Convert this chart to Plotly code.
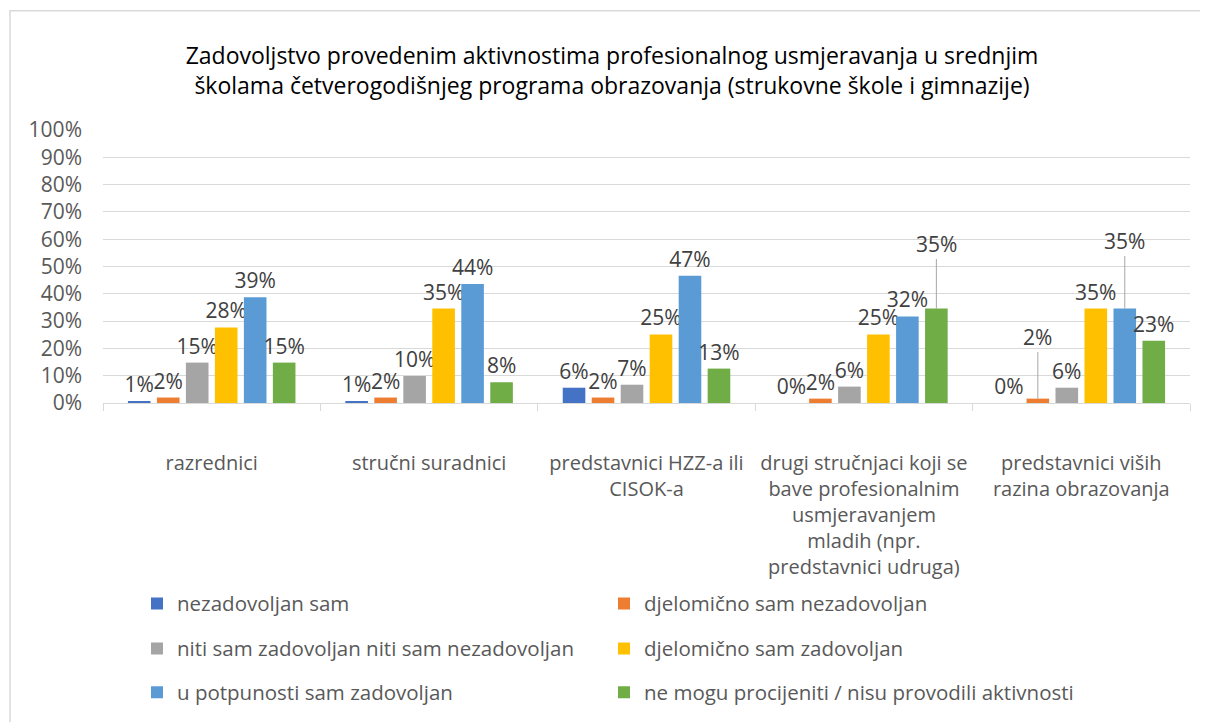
import plotly.graph_objects as go

categories = [
    "razrednici",
    "stručni suradnici",
    "predstavnici HZZ-a ili<br>CISOK-a",
    "drugi stručnjaci koji se<br>bave profesionalnim<br>usmjeravanjem<br>mladih (npr.<br>predstavnici udruga)",
    "predstavnici viših<br>razina obrazovanja",
]
series_names = [
    "nezadovoljan sam",
    "djelomično sam nezadovoljan",
    "niti sam zadovoljan niti sam nezadovoljan",
    "djelomično sam zadovoljan",
    "u potpunosti sam zadovoljan",
    "ne mogu procijeniti / nisu provodili aktivnosti",
]
nezadovoljan = [0.007, 0.006, 0.056, 0.0, 0.0]
djelomicno_nezadovoljan = [0.02, 0.02, 0.02, 0.016, 0.016]
niti_niti = [0.148, 0.099, 0.067, 0.06, 0.056]
djelomicno_zadovoljan = [0.277, 0.346, 0.251, 0.251, 0.346]
potpuno_zadovoljan = [0.387, 0.436, 0.466, 0.317, 0.346]
ne_mogu = [0.148, 0.076, 0.126, 0.346, 0.228]
values = [nezadovoljan, djelomicno_nezadovoljan, niti_niti,
          djelomicno_zadovoljan, potpuno_zadovoljan, ne_mogu]
colors = ["#4472C4", "#ED7D31", "#A5A5A5", "#FFC000", "#5B9BD5", "#70AD47"]
# labels moved away from bar with leader line: (series index, category index, pixel offset)
moved_labels = [(5, 3, -65), (4, 4, -68), (1, 4, -62)]

FONT = "Open Sans"
OFF = 8  # page body margin
W, H = 1208, 722
L, R, T, B = 103 - OFF, 26, 129.5 - OFF, 327
plot_w = W - L - R
plot_h = H - T - B
BARGAP = 0.2
slot = plot_w / len(categories) * (1 - BARGAP) / len(series_names)

legend_ids = ["legend", "legend2", "legend3", "legend4", "legend5", "legend6"]

fig = go.Figure()
for i, (name, vals, col) in enumerate(zip(series_names, values, colors)):
    texts = []
    for j, v in enumerate(vals):
        if any(s == i and c == j for s, c, _ in moved_labels):
            texts.append("")
        else:
            texts.append(f"{v * 100:.0f}%")
    fig.add_trace(go.Bar(
        name=name, x=categories, y=vals, marker_color=col,
        marker_line_width=0,
        text=texts, textposition="outside", constraintext="none",
        cliponaxis=False,
        textfont=dict(family=FONT, size=21, color="#404040"),
        legend=legend_ids[i],
        hoverinfo="name+y",
    ))

annotations = []
for s, c, off in moved_labels:
    v = values[s][c]
    annotations.append(dict(
        x=categories[c], y=v, xref="x", yref="y",
        xshift=(s - (len(series_names) - 1) / 2) * slot,
        text=f"{v * 100:.0f}%", showarrow=True, arrowhead=0,
        arrowwidth=1, arrowcolor="#a6a6a6", ax=0, ay=off,
        font=dict(family=FONT, size=21, color="#404040"),
    ))

def py(screen_y):
    return (H - B - (screen_y - OFF)) / plot_h

def px(screen_x):
    return (screen_x - OFF - L) / plot_w

legend_rows = [604, 649, 693]
legend_cols = [137, 604]
legend_layout = {}
for i, lid in enumerate(legend_ids):
    legend_layout[lid] = dict(
        orientation="h", xanchor="left", yanchor="middle",
        x=px(legend_cols[i % 2]), y=py(legend_rows[i // 2]),
        font=dict(family=FONT, size=20.5, color="#595959"),
        bgcolor="rgba(0,0,0,0)", itemwidth=30,
    )

fig.update_layout(
    width=W, height=H,
    margin=dict(l=L, r=R, t=T, b=B, autoexpand=False),
    paper_bgcolor="white", plot_bgcolor="white",
    barmode="group", bargap=BARGAP, bargroupgap=0.22,
    title=dict(
        text="Zadovoljstvo provedenim aktivnostima profesionalnog usmjeravanja u srednjim<br>"
             "školama četverogodišnjeg programa obrazovanja (strukovne škole i gimnazije)",
        x=0.5, xanchor="center", y=1 - (64 - OFF) / H, yanchor="middle",
        font=dict(family=FONT, size=23, color="#000000"),
    ),
    xaxis=dict(
        showline=True, linecolor="#d9d9d9", linewidth=1,
        ticks="outside", tickson="boundaries", ticklen=7, tickcolor="#d9d9d9",
        tickfont=dict(family=FONT, size=20, color="#595959"),
        ticklabelstandoff=42,
    ),
    yaxis=dict(
        range=[0, 1], dtick=0.1, tickformat=".0%",
        showgrid=True, gridcolor="#d9d9d9", gridwidth=1,
        zeroline=False, showline=False,
        tickfont=dict(family=FONT, size=21, color="#595959"),
        ticklabelstandoff=20,
    ),
    showlegend=True,
    annotations=annotations,
    shapes=[dict(type="rect", xref="paper", yref="paper",
                 x0=px(10), x1=px(W + 10),
                 y0=py(H + 10), y1=py(10),
                 line=dict(color="#d9d9d9", width=1.5), layer="below")],
    **legend_layout,
)

fig.write_html("out.html")
